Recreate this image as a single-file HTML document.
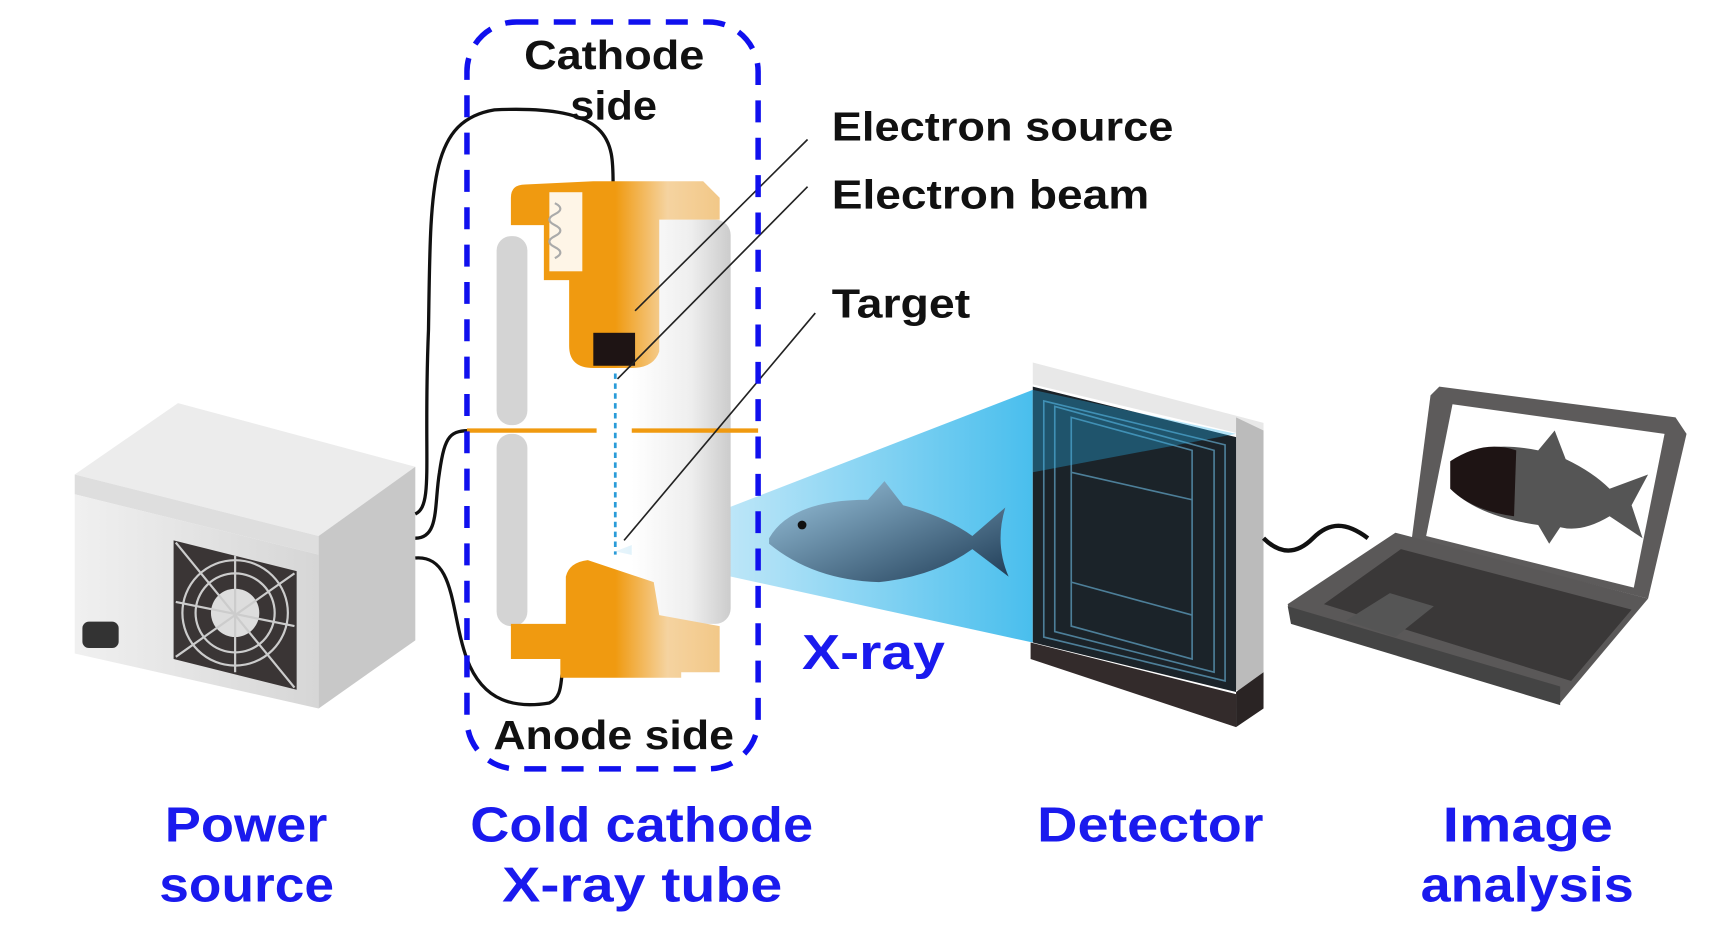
<!DOCTYPE html>
<html><head><meta charset="utf-8"><style>
html,body{margin:0;padding:0;background:#fff;width:1714px;height:938px;overflow:hidden}
svg{display:block}
text{font-family:"Liberation Sans",sans-serif;font-weight:bold}
</style></head><body>
<svg width="1714" height="938" viewBox="0 0 1560 854" preserveAspectRatio="none" xmlns="http://www.w3.org/2000/svg">
<defs>
<linearGradient id="tubeg" x1="0" x2="1"><stop offset="0" stop-color="#fff"/><stop offset="0.6" stop-color="#eee"/><stop offset="1" stop-color="#ccc"/></linearGradient>
<linearGradient id="orng" x1="0" x2="1"><stop offset="0" stop-color="#f09a10"/><stop offset="0.5" stop-color="#f09a10"/><stop offset="0.75" stop-color="#f5d3a0"/><stop offset="1" stop-color="#f2c888"/></linearGradient>
<linearGradient id="ray" x1="0" x2="1"><stop offset="0" stop-color="#e4f3fb"/><stop offset="1" stop-color="#29b3ea"/></linearGradient>
<linearGradient id="fish" x1="0" x2="1" y1="0" y2="1"><stop offset="0" stop-color="#9cc6df"/><stop offset="1" stop-color="#1e3b55"/></linearGradient>
<linearGradient id="boxf" x1="0" x2="1"><stop offset="0" stop-color="#f0f0f0"/><stop offset="1" stop-color="#d6d6d6"/></linearGradient>
</defs>
<!-- power box -->
<polygon points="68,432 162,367 378,425 290,488" fill="#ececec"/>
<polygon points="68,432 290,488 290,505 68,450" fill="#dedede"/>
<polygon points="68,450 290,505 290,645 68,595" fill="url(#boxf)"/>
<polygon points="290,488 378,425 378,583 290,645" fill="#c8c8c8"/>
<rect x="75" y="566" width="33" height="24" rx="6" fill="#333"/>
<polygon points="158,492 270,520 270,628 158,600" fill="#3a3535"/>
<circle cx="214" cy="558" r="48" fill="none" stroke="#ccc" stroke-width="2"/>
<circle cx="214" cy="558" r="36" fill="none" stroke="#ccc" stroke-width="2"/>
<circle cx="214" cy="558" r="22" fill="#ddd"/>
<path d="M160,494 L268,626 M268,522 L160,598 M214,506 L214,612 M160,548 L268,570" stroke="#ccc" stroke-width="2"/>
<!-- wires -->
<path d="M378,468 C395,460 385,420 390,300 C392,170 390,110 450,100 C560,95 558,130 558,170" fill="none" stroke="#111" stroke-width="3"/>
<path d="M378,490 C400,490 395,460 400,430 C405,395 410,392 430,392" fill="none" stroke="#111" stroke-width="3"/>
<path d="M378,508 C415,505 410,560 425,600 C440,640 470,645 500,640 C512,635 510,620 512,612" fill="none" stroke="#111" stroke-width="3"/>
<!-- x-ray cone -->
<polygon points="560,502 940,355 940,585" fill="url(#ray)" opacity="0.85"/>
<!-- tube -->
<rect x="575" y="200" width="90" height="368" rx="14" fill="url(#tubeg)"/>
<rect x="452" y="215" width="28" height="172" rx="13" fill="#d4d4d4"/>
<rect x="452" y="395" width="28" height="175" rx="13" fill="#d4d4d4"/>
<path d="M465,180 Q465,168 478,168 L540,165 L640,165 L655,180 L655,200 L600,200 L600,320 Q595,335 575,335 L540,335 Q518,335 518,315 L518,255 L495,255 L495,205 L465,205 Z" fill="url(#orng)"/>
<rect x="500" y="175" width="30" height="72" fill="#fff" opacity="0.9"/>
<path d="M505,185 q10,5 0,10 q-10,5 0,10 q10,5 0,10 q-10,5 0,10 q10,5 0,10" stroke="#aaa" fill="none" stroke-width="2"/>
<rect x="540" y="303" width="38" height="30" fill="#1e1414"/>
<line x1="425" y1="392" x2="543" y2="392" stroke="#f09a10" stroke-width="4"/>
<line x1="575" y1="392" x2="690" y2="392" stroke="#f09a10" stroke-width="4"/>
<line x1="560" y1="340" x2="560" y2="505" stroke="#2a9bd8" stroke-width="2.5" stroke-dasharray="5 4"/>
<path d="M515,525 Q518,512 535,510 L595,530 L600,560 L655,570 L655,612 L620,612 L620,617 L510,617 L510,600 L465,600 L465,568 L515,568 Z" fill="url(#orng)"/>
<!-- leader lines -->
<line x1="735" y1="127" x2="578" y2="283" stroke="#222" stroke-width="1.5"/>
<line x1="735" y1="170" x2="562" y2="345" stroke="#222" stroke-width="1.5"/>
<line x1="742" y1="285" x2="568" y2="492" stroke="#222" stroke-width="1.5"/>
<!-- dashed frame -->
<rect x="425" y="20" width="265" height="680" rx="45" fill="none" stroke="#1010ee" stroke-width="5" stroke-dasharray="20 14"/>
<!-- fish -->
<path d="M700,490 Q720,455 790,455 L805,438 L822,460 Q860,470 885,488 L915,462 Q905,495 918,525 L885,500 Q850,525 800,530 Q740,528 700,495 Z" fill="url(#fish)"/>
<circle cx="730" cy="478" r="4" fill="#111"/>
<!-- detector -->
<polygon points="940,330 1150,385 1150,400 940,350" fill="#e8e8e8"/>
<polygon points="1125,380 1150,392 1150,640 1125,628" fill="#bbb"/>
<polygon points="940,352 1125,398 1125,630 940,585" fill="#1b2329"/>
<polygon points="938,585 1125,632 1125,662 938,600" fill="#332b2b"/>
<polygon points="1125,630 1150,612 1150,645 1125,662" fill="#2a2424"/>
<path d="M950,365 L1115,405 L1115,620 L950,580 Z M960,370 L1105,410 L1105,612 L960,575 Z M975,380 L1085,410 L1085,600 L975,570 Z M975,430 L1085,455 M975,530 L1085,560" fill="none" stroke="#4d7f99" stroke-width="1.5"/>
<polygon points="940,355 1125,395 940,430" fill="#29b3ea" opacity="0.35"/>
<!-- laptop cable -->
<path d="M1150,490 C1165,505 1180,505 1195,490 C1210,475 1225,475 1245,490" fill="none" stroke="#111" stroke-width="4"/>
<!-- laptop -->
<polygon points="1310,352 1525,380 1535,395 1500,545 1285,490 1302,360" fill="#5d5b5b"/>
<polygon points="1322,368 1515,395 1487,535 1298,488" fill="#fff"/>
<path d="M1320,420 Q1350,400 1400,410 L1415,392 L1425,418 Q1450,430 1465,445 L1500,432 L1485,460 L1495,490 L1465,470 Q1440,485 1420,480 L1410,495 L1400,478 Q1345,470 1320,445 Z" fill="#555"/>
<path d="M1320,420 Q1350,400 1380,410 L1378,470 Q1340,465 1320,445 Z" fill="#1e1414"/>
<polygon points="1270,485 1500,545 1420,640 1175,565 1172,550" fill="#5a5858"/>
<polygon points="1205,550 1275,500 1485,555 1430,620" fill="#3a3838"/>
<polygon points="1225,565 1265,540 1305,552 1270,580" fill="#555"/>
<polygon points="1172,552 1420,625 1420,642 1175,568" fill="#444"/>
<!-- labels -->
<g font-size="37" fill="#111" lengthAdjust="spacingAndGlyphs">
<text x="477" y="63" textLength="164" lengthAdjust="spacingAndGlyphs">Cathode</text>
<text x="519" y="109" textLength="79" lengthAdjust="spacingAndGlyphs">side</text>
<text x="757" y="128" textLength="311" lengthAdjust="spacingAndGlyphs">Electron source</text>
<text x="757" y="190" textLength="289" lengthAdjust="spacingAndGlyphs">Electron beam</text>
<text x="757" y="289" textLength="126" lengthAdjust="spacingAndGlyphs">Target</text>
<text x="449" y="682" textLength="219" lengthAdjust="spacingAndGlyphs">Anode side</text>
</g>
<g font-size="45" fill="#1a1aee">
<text x="730" y="609" textLength="130" lengthAdjust="spacingAndGlyphs">X-ray</text>
<text x="150" y="766" textLength="148" lengthAdjust="spacingAndGlyphs">Power</text>
<text x="145" y="821" textLength="159" lengthAdjust="spacingAndGlyphs">source</text>
<text x="428" y="766" textLength="312" lengthAdjust="spacingAndGlyphs">Cold cathode</text>
<text x="457" y="821" textLength="255" lengthAdjust="spacingAndGlyphs">X-ray tube</text>
<text x="944" y="766" textLength="206" lengthAdjust="spacingAndGlyphs">Detector</text>
<text x="1313" y="766" textLength="155" lengthAdjust="spacingAndGlyphs">Image</text>
<text x="1293" y="821" textLength="194" lengthAdjust="spacingAndGlyphs">analysis</text>
</g>
</svg>
</body></html>
